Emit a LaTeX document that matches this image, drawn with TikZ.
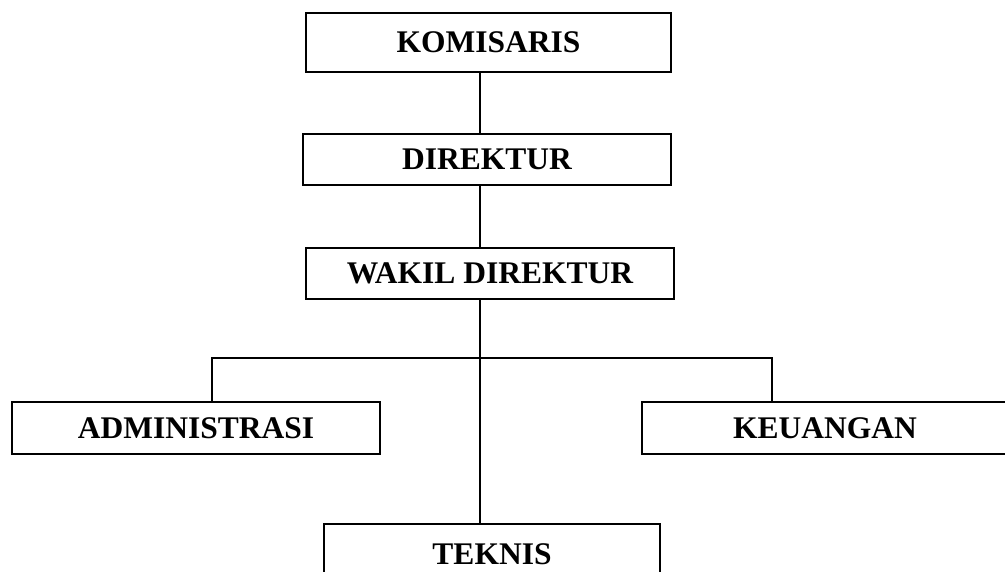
\documentclass[tikz,border=0pt]{standalone}
\usepackage{fontspec}
\setmainfont{Liberation Serif}
\begin{document}
\begin{tikzpicture}[x=1pt,y=-1pt,
  unit/.style={draw, line width=1.6pt, inner sep=0pt, anchor=center,
    font=\fontsize{31.5}{36}\selectfont\bfseries},
  link/.style={line width=1.6pt}]
  \useasboundingbox (0,0) rectangle (1005,572);
  \clip (0,0) rectangle (1005,572);
  % boxes of the chart
  \node[unit, minimum width=365pt, minimum height=59pt] (kom) at (488.5,42.5) {KOMISARIS};
  \node[unit, minimum width=368pt, minimum height=51pt] (dir) at (487,159.5) {DIREKTUR};
  \node[unit, minimum width=368pt, minimum height=51pt] (wak) at (490,273.5) {WAKIL DIREKTUR};
  \node[unit, minimum width=368pt, minimum height=52pt] (adm) at (196,428) {ADMINISTRASI};
  \node[unit, minimum width=366pt, minimum height=52pt] (keu) at (825,428) {KEUANGAN};
  \node[unit, minimum width=336pt, minimum height=60pt] (tek) at (492,554) {TEKNIS};
  % spine and branch points
  \coordinate (spine) at (480,0);
  \coordinate (lbr) at (212,358);
  \coordinate (rbr) at (772,358);
  % connectors
  \draw[link] (kom.south -| spine) -- (dir.north -| spine);
  \draw[link] (dir.south -| spine) -- (wak.north -| spine);
  \draw[link] (wak.south -| spine) -- (tek.north -| spine);
  \draw[link] (adm.north -| lbr) -- (lbr) -- (rbr) -- (keu.north -| rbr);
\end{tikzpicture}
\end{document}
